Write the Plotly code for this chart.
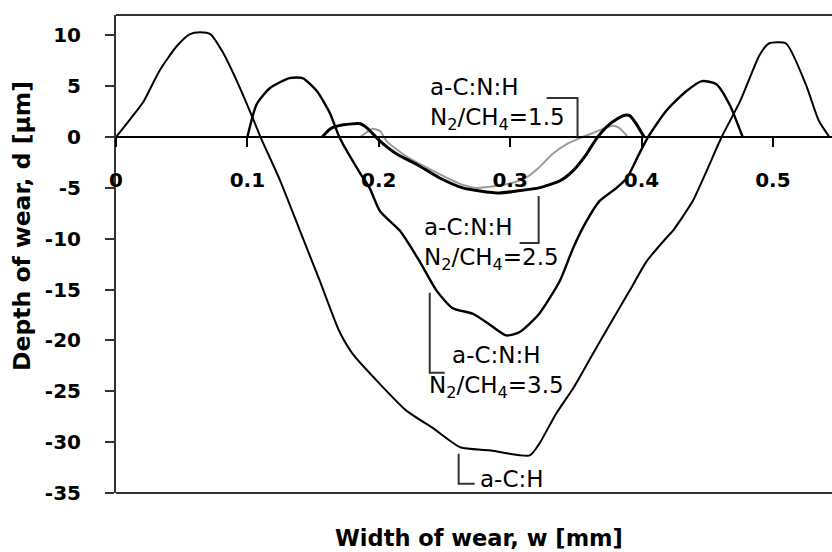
import plotly.graph_objects as go

# ---- data ----
x_ach = [0, 0.008, 0.021, 0.033, 0.046, 0.056, 0.064, 0.072, 0.081, 0.092, 0.104, 0.110,
         0.125, 0.140, 0.155, 0.170, 0.180, 0.201, 0.221, 0.241, 0.262, 0.284, 0.315,
         0.322, 0.335, 0.348, 0.360, 0.376, 0.391, 0.404, 0.419, 0.424, 0.439, 0.449,
         0.461, 0.475, 0.490, 0.497, 0.510, 0.525, 0.535, 0.543]
y_ach = [0, 1.3, 3.5, 6.5, 8.9, 10.1, 10.3, 10.1, 8.4, 5.5, 1.9, 0,
         -4.3, -9.2, -14.1, -19.1, -21.3, -24.3, -26.9, -28.6, -30.5, -30.8, -31.3,
         -30.2, -27.2, -24.7, -22.0, -18.4, -15.1, -12.2, -9.9, -9.2, -6.3, -3.5,
         0, 3.5, 8.1, 9.2, 9.2, 5.2, 1.6, 0]

x_35 = [0.100, 0.107, 0.117, 0.132, 0.142, 0.153, 0.163, 0.170, 0.186, 0.193, 0.201,
        0.216, 0.231, 0.244, 0.256, 0.272, 0.284, 0.297, 0.307, 0.322, 0.338, 0.348,
        0.358, 0.368, 0.381, 0.389, 0.398, 0.405, 0.419, 0.434, 0.446, 0.457, 0.467, 0.477]
y_35 = [0, 3.2, 4.8, 5.8, 5.8, 4.5, 2.3, 0, -3.6, -5.0, -7.3,
        -9.2, -12.2, -15.1, -16.8, -17.4, -18.4, -19.5, -19.2, -17.4, -14.1, -10.9,
        -8.3, -6.3, -5.0, -4.0, -1.7, 0, 2.6, 4.5, 5.5, 5.2, 3.2, 0]

x_25 = [0.157, 0.163, 0.173, 0.186, 0.191, 0.201, 0.214, 0.229, 0.246, 0.264, 0.277,
        0.292, 0.305, 0.322, 0.338, 0.348, 0.358, 0.366, 0.376, 0.386, 0.391, 0.396, 0.402]
y_25 = [0, 0.8, 1.2, 1.3, 0.9, -0.4, -1.7, -2.7, -4.0, -5.0, -5.3,
        -5.5, -5.3, -5.0, -4.3, -3.3, -1.7, -0.1, 1.3, 2.1, 2.1, 1.3, 0]

x_15 = [0.186, 0.195, 0.201, 0.206, 0.221, 0.241, 0.262, 0.274, 0.290, 0.302, 0.312,
        0.322, 0.332, 0.343, 0.353, 0.363, 0.378, 0.383, 0.389]
y_15 = [0, 0.8, 0.6, -0.4, -1.9, -3.3, -4.6, -5.0, -4.8, -4.5, -4.0,
        -3.0, -1.7, -0.7, -0.1, 0.4, 1.1, 0.9, 0.1]

x_tick_vals = [0, 0.1, 0.2, 0.3, 0.4, 0.5]
x_tick_text = ["0", "0.1", "0.2", "0.3", "0.4", "0.5"]
y_tick_vals = [10, 5, 0, -5, -10, -15, -20, -25, -30, -35]
y_tick_text = ["10", "5", "0", "-5", "-10", "-15", "-20", "-25", "-30", "-35"]

x_min, x_max = 0, 0.545
y_min, y_max = -35, 12

# ---- figure ----
fig = go.Figure()
fig.add_trace(go.Scatter(x=x_ach, y=y_ach, mode="lines", name="a-C:H",
                         line=dict(color="black", width=2, shape="spline", smoothing=0.6)))
fig.add_trace(go.Scatter(x=x_35, y=y_35, mode="lines", name="N2/CH4=3.5",
                         line=dict(color="black", width=2.4, shape="spline", smoothing=0.6)))
fig.add_trace(go.Scatter(x=x_15, y=y_15, mode="lines", name="N2/CH4=1.5",
                         line=dict(color="#9a9a9a", width=2, shape="spline", smoothing=0.6)))
fig.add_trace(go.Scatter(x=x_25, y=y_25, mode="lines", name="N2/CH4=2.5",
                         line=dict(color="black", width=3, shape="spline", smoothing=0.6)))

tick_font = dict(family="DejaVu Sans", size=20, color="black", weight="bold")
ann_font = dict(family="DejaVu Sans", size=23, color="black")

fig.update_layout(
    width=832, height=552,
    margin=dict(l=116, r=0, t=15, b=59),
    paper_bgcolor="white", plot_bgcolor="white",
    showlegend=False,
    xaxis=dict(range=[x_min, x_max], anchor="free",
               position=(0 - y_min) / (y_max - y_min),
               tickvals=x_tick_vals, ticktext=x_tick_text,
               showline=True, linecolor="black", linewidth=1.5,
               ticks="outside", ticklen=9, tickwidth=1.5, tickcolor="black",
               ticklabelstandoff=16,
               showgrid=False, zeroline=False, tickfont=tick_font),
    yaxis=dict(range=[y_min, y_max],
               tickvals=y_tick_vals, ticktext=y_tick_text,
               showline=True, linecolor="#333333", linewidth=2,
               ticks="outside", ticklen=9, tickwidth=1.5, tickcolor="#333333",
               ticklabelstandoff=20,
               showgrid=False, zeroline=False, tickfont=tick_font),
)

# frame (top and bottom)
for yy in (0, 1):
    fig.add_shape(type="line", xref="paper", yref="paper", x0=0, x1=1, y0=yy, y1=yy,
                  line=dict(color="#333333", width=2))

# bracket leaders for the labels
bracket_color = "#333333"
brackets = [
    "M 0.3278 3.83 L 0.3513 3.83 L 0.3513 0",
    "M 0.3217 -5.80 L 0.3217 -10.41 L 0.3072 -10.41",
    "M 0.2388 -15.32 L 0.2388 -23.18 L 0.2502 -23.18",
    "M 0.2608 -31.14 L 0.2608 -34.09 L 0.2730 -34.09",
]
for p in brackets:
    fig.add_shape(type="path", path=p, xref="x", yref="y",
                  line=dict(color=bracket_color, width=2))

# labels
fig.add_annotation(x=0.2373, y=3.29, xref="x", yref="y", xanchor="left", yanchor="middle",
                   align="left", showarrow=False, font=ann_font,
                   text="a-C:N:H<br>N<sub>2</sub>/CH<sub>4</sub>=1.5")
fig.add_annotation(x=0.2327, y=-10.51, xref="x", yref="y", xanchor="left", yanchor="middle",
                   align="left", showarrow=False, font=ann_font,
                   text="a-C:N:H<br>N<sub>2</sub>/CH<sub>4</sub>=2.5")
fig.add_annotation(x=0.2897, y=-23.08, xref="x", yref="y", xanchor="center", yanchor="middle",
                   align="center", showarrow=False, font=ann_font,
                   text="a-C:N:H<br>N<sub>2</sub>/CH<sub>4</sub>=3.5")
fig.add_annotation(x=0.3011, y=-33.6, xref="x", yref="y", xanchor="center", yanchor="middle",
                   showarrow=False, font=ann_font, text="a-C:H")

# axis titles
fig.add_annotation(x=(479 - 116) / 716, y=-(538 - 493) / 478, xref="paper", yref="paper",
                   xanchor="center", yanchor="middle", showarrow=False,
                   font=dict(family="DejaVu Sans", size=22.5, color="black", weight="bold"),
                   text="Width of wear, w [mm]")
fig.add_annotation(x=(22 - 116) / 716, y=(493 - 226) / 478, xref="paper", yref="paper",
                   xanchor="center", yanchor="middle", showarrow=False, textangle=-90,
                   font=dict(family="DejaVu Sans", size=23.5, color="black", weight="bold"),
                   text="Depth of wear, d [μm]")

fig.write_html("out.html", config={"displayModeBar": False},
               post_script="document.body.style.margin='0';document.body.style.overflow='hidden';")
